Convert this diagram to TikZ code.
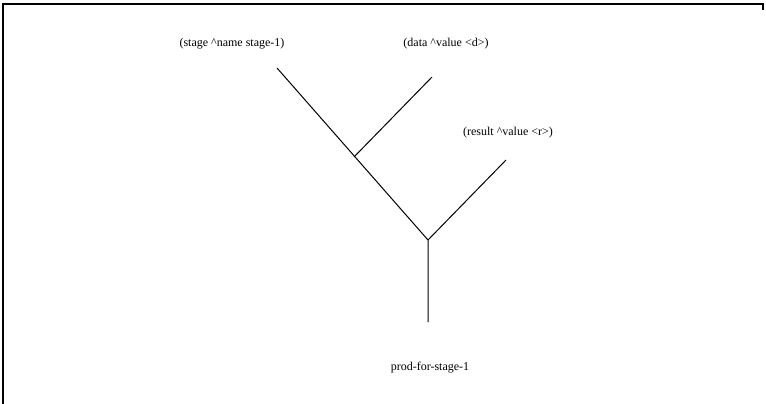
\documentclass[tikz,border=0pt]{standalone}
\usepackage{fontspec}
\setmainfont{Liberation Serif}
\usepackage{tikz}
\tikzset{wme/.style={inner sep=1pt, font=\fontsize{12}{14}\selectfont},
	net/.style={line width=1pt, black}}

\begin{document}
\begin{tikzpicture}[x=1pt, y=-1pt]
\useasboundingbox (0,0) rectangle (766,404);

% frame
\draw[line width=1.4pt] (3,404) -- (3,4) -- (763,4) -- (763,10);

% condition elements
\node[wme] (stage) at (232,44) {(stage \^{}name stage-1)};
\node[wme] (data) at (446,44) {(data \^{}value <d>)};
\node[wme] (result) at (508,133) {(result \^{}value <r>)};
\node[wme] (prod) at (430,368) {prod-for-stage-1};

% join network
\coordinate (a) at (277,68);
\coordinate (d) at (432,77);
\coordinate (j) at (354,157);
\coordinate (r) at (506,160);
\coordinate (v) at (428,240);
\coordinate (p) at (428,322);

\draw[net] (a) -- (v) -- (p);
\draw[net] (d) -- (j);
\draw[net] (r) -- (v);
\end{tikzpicture}
\end{document}
